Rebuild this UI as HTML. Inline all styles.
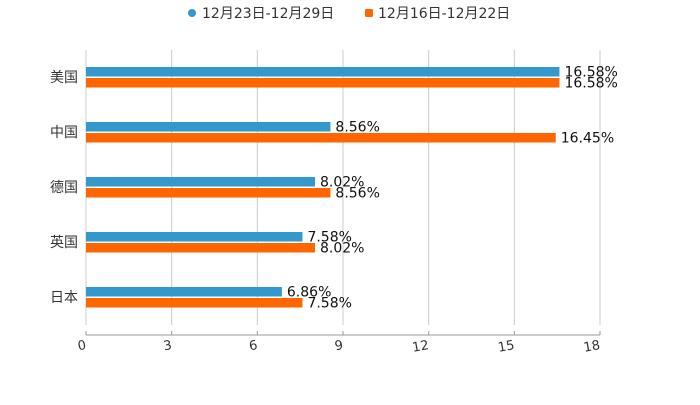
<!DOCTYPE html>
<html><head><meta charset="utf-8"><style>
body{margin:0;background:#fff;}
svg{font-family:"DejaVu Sans","Noto Sans CJK SC",sans-serif;}
</style></head><body>
<svg width="700" height="400" id="c"></svg>
<script>
const categories=["美国","中国","德国","英国","日本"];
const seriesA=[16.58,8.56,8.02,7.58,6.86];
const seriesB=[16.58,16.45,8.56,8.02,7.58];
const ticks=[0,3,6,9,12,15,18];
const seriesNames=["12月23日-12月29日","12月16日-12月22日"];
const NS="http://www.w3.org/2000/svg";
const svg=document.getElementById('c');
const x0=86,x1=600,gridTop=50,axisY=335;
const xs=v=>x0+(v/18)*(x1-x0);
const rowY=i=>77+i*55;
function mk(t,a,p){const e=document.createElementNS(NS,t);for(const k in a)e.setAttribute(k,a[k]);(p||svg).appendChild(e);return e;}
ticks.forEach((t,i)=>{
 const g=mk('line',{x1:xs(t),x2:xs(t),y1:gridTop,y2:325,stroke:'#ccc','stroke-width':1});
 
 
 const tk=mk('line',{x1:xs(t),x2:xs(t),y1:axisY-4,y2:axisY,stroke:'#999'});
 
 
 const lb=mk('text',{x:xs(t),y:axisY+14,'font-size':13,fill:'#333','text-anchor':'end',transform:`rotate(-10 ${xs(t)} ${axisY+10})`});
 lb.textContent=t;
 
 
});
const ax=mk('line',{x1:x0,x2:x1,y1:axisY,y2:axisY,stroke:'#999'});


categories.forEach((c,i)=>{
 const cy=rowY(i);
 const l=mk('text',{x:78,y:cy+5,'font-size':14,fill:'#333','text-anchor':'end'});
 l.textContent=c;
 
 
 [[seriesA[i],'#3399cc',cy-10],[seriesB[i],'#ff6600',cy+1]].forEach(([v,col,y],k)=>{
  const r=mk('rect',{x:x0,y:y,width:xs(v)-x0,height:9.5,fill:col});
  
  
  const t=mk('text',{x:xs(v)+5,y:y+9.5,'font-size':14,fill:'#111'});
  t.textContent=v.toFixed(2)+'%';
  
  
 });
});
const c1=mk('circle',{cx:192,cy:13,r:4,fill:'#3399cc'});


const t1=mk('text',{x:202,y:18,'font-size':14,fill:'#333'});t1.textContent=seriesNames[0];


const r2=mk('rect',{x:365,y:9,width:8,height:8,rx:1.5,fill:'#ff6600'});


const t2=mk('text',{x:378,y:18,'font-size':14,fill:'#333'});t2.textContent=seriesNames[1];


</script>
</body></html>
